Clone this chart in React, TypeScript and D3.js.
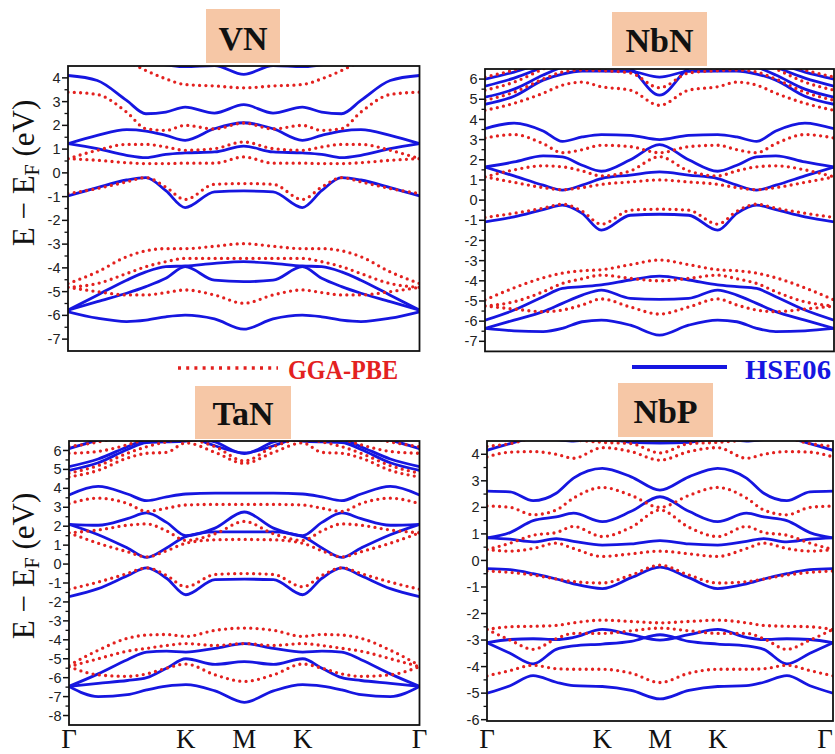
import React from "react";
import * as d3 from "d3";

// k-path
const K_LABELS = ["Γ", "K", "M", "K", "Γ"];
const K_POS = [0, 2, 3, 4, 6];
const X_STD = [0, 0.5, 1, 1.33, 1.67, 2, 2.5, 3, 3.5, 4, 4.33, 4.67, 5, 5.5, 6];
const X_NBP = [0, 0.4, 0.8, 1.2, 1.5, 2, 2.5, 3, 3.5, 4, 4.5, 4.8, 5.2, 5.6, 6];

// tick labels
const VN_TICKS = [-7, -6, -5, -4, -3, -2, -1, 0, 1, 2, 3, 4];
const NBN_TICKS = [-7, -6, -5, -4, -3, -2, -1, 0, 1, 2, 3, 4, 5, 6];
const TAN_TICKS = [-8, -7, -6, -5, -4, -3, -2, -1, 0, 1, 2, 3, 4, 5, 6];
const NBP_TICKS = [-6, -5, -4, -3, -2, -1, 0, 1, 2, 3, 4];

// ---------- VN ----------
const VN_HSE = [
  [-5.85, -6.12, -6.26, -6.2, -6.06, -5.99, -6.15, -6.58, -6.15, -5.99, -6.06, -6.2, -6.26, -6.12, -5.85],
  [-5.78, -5.42, -5.07, -4.79, -4.44, -3.95, -4.52, -4.58, -4.52, -3.95, -4.44, -4.79, -5.07, -5.42, -5.78],
  [-5.78, -5.15, -4.52, -4.17, -3.95, -3.92, -3.81, -3.74, -3.81, -3.92, -3.95, -4.17, -4.52, -5.15, -5.78],
  [-0.97, -0.62, -0.3, -0.2, -0.75, -1.46, -0.8, -0.76, -0.8, -1.46, -0.75, -0.2, -0.3, -0.62, -0.97],
  [1.23, 1.02, 0.74, 0.64, 0.78, 0.84, 0.88, 1.13, 0.88, 0.84, 0.78, 0.64, 0.74, 1.02, 1.23],
  [1.23, 1.58, 1.82, 1.76, 1.58, 1.37, 1.86, 2.11, 1.86, 1.37, 1.58, 1.76, 1.82, 1.58, 1.23],
  [4.1, 3.89, 3.05, 2.49, 2.56, 2.77, 2.52, 2.87, 2.52, 2.77, 2.56, 2.49, 3.05, 3.89, 4.1],
  [5.2, 5.0, 4.8, 4.65, 4.55, 4.47, 4.52, 4.15, 4.52, 4.47, 4.55, 4.65, 4.8, 5.0, 5.2],
];
const VN_GGA = [
  [5.4, 5.1, 4.7, 4.31, 3.96, 3.72, 3.66, 3.58, 3.66, 3.72, 3.96, 4.31, 4.7, 5.1, 5.4],
  [3.4, 3.3, 2.56, 1.86, 1.79, 2.0, 1.85, 2.1, 1.85, 2.0, 1.79, 1.86, 2.56, 3.3, 3.4],
  [0.6, 0.95, 1.2, 1.2, 1.09, 0.95, 1.02, 1.3, 1.02, 0.95, 1.09, 1.2, 1.2, 0.95, 0.6],
  [0.6, 0.53, 0.43, 0.39, 0.39, 0.41, 0.41, 0.67, 0.41, 0.41, 0.39, 0.39, 0.43, 0.53, 0.6],
  [-0.87, -0.66, -0.38, -0.2, -0.6, -1.12, -0.48, -0.45, -0.48, -1.12, -0.6, -0.2, -0.38, -0.66, -0.87],
  [-4.66, -4.17, -3.53, -3.28, -3.19, -3.19, -3.09, -2.98, -3.09, -3.19, -3.19, -3.28, -3.53, -4.17, -4.66],
  [-4.82, -4.66, -4.24, -3.95, -3.74, -3.6, -3.6, -3.6, -3.6, -3.6, -3.74, -3.95, -4.24, -4.66, -4.82],
  [-4.82, -5.0, -5.14, -5.14, -5.04, -4.93, -5.14, -5.49, -5.14, -4.93, -5.04, -5.14, -5.14, -5.0, -4.82],
];

// ---------- NbN ----------
const NBN_HSE = [
  [-6.36, -6.48, -6.52, -6.36, -6.03, -5.95, -6.2, -6.69, -6.2, -5.95, -6.03, -6.36, -6.52, -6.48, -6.36],
  [-5.95, -5.45, -4.79, -4.38, -4.29, -4.2, -3.96, -3.77, -3.96, -4.2, -4.29, -4.38, -4.79, -5.45, -5.95],
  [-6.36, -5.95, -5.53, -5.12, -4.71, -4.46, -4.87, -4.92, -4.87, -4.46, -4.71, -5.12, -5.53, -5.95, -6.36],
  [-1.08, -0.83, -0.47, -0.25, -0.66, -1.49, -0.75, -0.7, -0.75, -1.49, -0.66, -0.25, -0.47, -0.83, -1.08],
  [1.64, 1.2, 0.74, 0.5, 0.74, 1.07, 1.24, 1.4, 1.24, 1.07, 0.74, 0.5, 0.74, 1.2, 1.64],
  [1.64, 1.89, 2.19, 2.14, 1.73, 1.43, 2.0, 2.75, 2.0, 1.43, 1.73, 2.14, 2.19, 1.89, 1.64],
  [3.54, 3.82, 3.43, 2.91, 3.13, 3.25, 3.21, 3.0, 3.21, 3.25, 3.13, 2.91, 3.43, 3.82, 3.54],
  [4.75, 5.15, 5.95, 6.25, 6.4, 6.4, 6.38, 6.1, 6.38, 6.4, 6.4, 6.25, 5.95, 5.15, 4.75],
  [5.1, 5.5, 6.2, 6.6, 6.9, 7.0, 6.55, 5.2, 6.55, 7.0, 6.9, 6.6, 6.2, 5.5, 5.1],
  [5.65, 6.05, 6.6, 7.0, 7.2, 7.3, 7.3, 7.3, 7.3, 7.3, 7.2, 7.0, 6.6, 6.05, 5.65],
  [6.0, 6.35, 6.8, 7.1, 7.3, 7.4, 7.4, 7.4, 7.4, 7.4, 7.3, 7.1, 6.8, 6.35, 6.0],
];
const NBN_GGA = [
  [-5.25, -5.4, -5.53, -5.45, -5.2, -4.9, -5.3, -5.65, -5.3, -4.9, -5.2, -5.45, -5.53, -5.4, -5.25],
  [-5.25, -5.04, -4.54, -4.13, -3.9, -3.72, -3.88, -4.0, -3.88, -3.72, -3.9, -4.13, -4.54, -5.04, -5.25],
  [-4.95, -4.35, -3.85, -3.62, -3.5, -3.45, -3.2, -2.97, -3.2, -3.45, -3.5, -3.62, -3.85, -4.35, -4.95],
  [-0.86, -0.65, -0.4, -0.2, -0.55, -1.19, -0.5, -0.45, -0.5, -1.19, -0.55, -0.2, -0.4, -0.65, -0.86],
  [1.15, 0.88, 0.62, 0.52, 0.62, 0.78, 0.9, 1.0, 0.9, 0.78, 0.62, 0.52, 0.62, 0.88, 1.15],
  [1.15, 1.5, 1.7, 1.65, 1.45, 1.2, 1.45, 2.15, 1.45, 1.2, 1.45, 1.65, 1.7, 1.5, 1.15],
  [3.08, 3.25, 2.8, 2.35, 2.5, 2.72, 2.65, 2.35, 2.65, 2.72, 2.5, 2.35, 2.8, 3.25, 3.08],
  [4.45, 4.8, 5.3, 5.7, 5.85, 5.62, 5.45, 4.7, 5.45, 5.62, 5.85, 5.7, 5.3, 4.8, 4.45],
  [4.95, 5.35, 6.0, 6.35, 6.45, 6.42, 6.3, 5.57, 6.3, 6.42, 6.45, 6.35, 6.0, 5.35, 4.95],
  [5.45, 5.85, 6.5, 6.9, 7.1, 7.2, 7.2, 7.2, 7.2, 7.2, 7.1, 6.9, 6.5, 5.85, 5.45],
  [6.1, 6.45, 6.9, 7.2, 7.3, 7.3, 7.3, 7.3, 7.3, 7.3, 7.3, 7.2, 6.9, 6.45, 6.1],
];

// ---------- TaN ----------
const TAN_HSE = [
  [-6.46, -7.0, -6.9, -6.65, -6.45, -6.37, -6.7, -7.3, -6.7, -6.37, -6.45, -6.65, -6.9, -7.0, -6.46],
  [-6.46, -6.3, -6.15, -6.0, -5.5, -5.0, -5.3, -5.15, -5.3, -5.0, -5.5, -6.0, -6.15, -6.3, -6.46],
  [-6.46, -5.8, -5.05, -4.65, -4.6, -4.65, -4.45, -4.2, -4.45, -4.65, -4.6, -4.65, -5.05, -5.8, -6.46],
  [-1.72, -1.3, -0.62, -0.2, -0.75, -1.62, -0.82, -0.8, -0.82, -1.62, -0.75, -0.2, -0.62, -1.3, -1.72],
  [2.1, 1.55, 0.85, 0.35, 0.85, 1.45, 1.7, 1.7, 1.7, 1.45, 0.85, 0.35, 0.85, 1.55, 2.1],
  [2.1, 2.05, 2.4, 2.7, 2.2, 1.5, 1.9, 2.75, 1.9, 1.5, 2.2, 2.7, 2.4, 2.05, 2.1],
  [3.65, 4.1, 3.7, 3.35, 3.55, 3.7, 3.75, 3.75, 3.75, 3.7, 3.55, 3.35, 3.7, 4.1, 3.65],
  [4.95, 5.35, 6.05, 6.42, 6.45, 6.5, 6.7, 6.9, 6.7, 6.5, 6.45, 6.42, 6.05, 5.35, 4.95],
  [5.15, 5.55, 6.2, 6.6, 6.8, 6.9, 7.0, 7.1, 7.0, 6.9, 6.8, 6.6, 6.2, 5.55, 5.15],
  [6.1, 6.55, 6.9, 7.0, 7.0, 6.8, 6.25, 5.87, 6.25, 6.8, 7.0, 7.0, 6.9, 6.55, 6.1],
  [7.5, 7.5, 7.3, 7.2, 7.0, 6.75, 6.45, 5.83, 6.45, 6.75, 7.0, 7.2, 7.3, 7.5, 7.5],
];
const TAN_GGA = [
  [-5.42, -5.85, -5.93, -5.8, -5.5, -5.28, -5.85, -6.2, -5.85, -5.28, -5.5, -5.8, -5.93, -5.85, -5.42],
  [-5.42, -5.0, -4.6, -4.45, -4.3, -4.2, -4.3, -4.2, -4.3, -4.2, -4.3, -4.45, -4.6, -5.0, -5.42],
  [-5.35, -4.55, -3.92, -3.75, -3.72, -3.82, -3.5, -3.38, -3.5, -3.82, -3.72, -3.75, -3.92, -4.55, -5.35],
  [-1.33, -0.95, -0.5, -0.2, -0.6, -1.2, -0.55, -0.5, -0.55, -1.2, -0.6, -0.2, -0.5, -0.95, -1.33],
  [1.65, 1.1, 0.65, 0.38, 0.7, 1.1, 1.28, 1.3, 1.28, 1.1, 0.7, 0.38, 0.65, 1.1, 1.65],
  [1.65, 1.8, 2.05, 2.12, 1.75, 1.25, 1.6, 2.25, 1.6, 1.25, 1.75, 2.12, 2.05, 1.8, 1.65],
  [3.19, 3.48, 3.2, 2.78, 2.95, 3.12, 3.15, 3.15, 3.15, 3.12, 2.95, 2.78, 3.2, 3.48, 3.19],
  [4.6, 4.95, 5.6, 5.85, 5.9, 6.4, 5.9, 5.32, 5.9, 6.4, 5.9, 5.85, 5.6, 4.95, 4.6],
  [4.8, 5.2, 5.85, 6.2, 6.45, 6.6, 6.2, 5.45, 6.2, 6.6, 6.45, 6.2, 5.85, 5.2, 4.8],
  [5.85, 5.95, 6.3, 6.6, 6.8, 6.9, 7.0, 7.0, 7.0, 6.9, 6.8, 6.6, 6.3, 5.95, 5.85],
  [6.2, 6.45, 6.8, 7.0, 7.1, 7.2, 7.2, 7.2, 7.2, 7.2, 7.1, 7.0, 6.8, 6.45, 6.2],
];

// ---------- NbP ----------
const NBP_HSE = [
  [-5.0, -4.72, -4.34, -4.59, -4.72, -4.75, -4.9, -5.22, -4.9, -4.75, -4.72, -4.59, -4.34, -4.72, -5.0],
  [-3.1, -3.5, -3.9, -3.35, -3.22, -3.15, -3.05, -2.8, -3.05, -3.15, -3.22, -3.35, -3.9, -3.5, -3.1],
  [-3.1, -2.98, -2.95, -2.98, -2.9, -2.6, -2.8, -3.0, -2.8, -2.6, -2.9, -2.98, -2.95, -2.98, -3.1],
  [-0.31, -0.35, -0.5, -0.7, -0.88, -1.06, -0.65, -0.25, -0.65, -1.06, -0.88, -0.7, -0.5, -0.35, -0.31],
  [0.85, 0.8, 0.7, 0.82, 0.72, 0.58, 0.62, 0.75, 0.62, 0.58, 0.72, 0.82, 0.7, 0.8, 0.85],
  [0.85, 1.05, 1.5, 1.64, 1.78, 1.46, 1.85, 2.4, 1.85, 1.46, 1.78, 1.64, 1.5, 1.05, 0.85],
  [2.61, 2.58, 2.25, 2.53, 3.1, 3.47, 3.15, 2.65, 3.15, 3.47, 3.1, 2.53, 2.25, 2.58, 2.61],
  [4.15, 4.4, 4.6, 4.55, 4.5, 4.6, 4.45, 4.42, 4.45, 4.6, 4.5, 4.55, 4.6, 4.4, 4.15],
];
const NBP_GGA = [
  [-4.35, -4.15, -3.95, -4.08, -4.1, -4.1, -4.25, -4.6, -4.25, -4.1, -4.1, -4.08, -3.95, -4.15, -4.35],
  [-2.6, -3.0, -3.35, -2.95, -2.75, -2.75, -2.65, -2.55, -2.65, -2.75, -2.75, -2.95, -3.35, -3.0, -2.6],
  [-2.6, -2.5, -2.48, -2.45, -2.35, -2.25, -2.3, -2.35, -2.3, -2.25, -2.35, -2.45, -2.48, -2.5, -2.6],
  [-0.4, -0.45, -0.55, -0.7, -0.8, -0.85, -0.55, -0.18, -0.55, -0.85, -0.8, -0.7, -0.55, -0.45, -0.4],
  [0.41, 0.35, 0.45, 0.65, 0.45, 0.15, 0.25, 0.35, 0.25, 0.15, 0.45, 0.65, 0.45, 0.35, 0.41],
  [0.41, 0.65, 0.95, 1.05, 1.28, 0.9, 1.25, 1.9, 1.25, 0.9, 1.28, 1.05, 0.95, 0.65, 0.41],
  [2.05, 2.0, 1.72, 1.9, 2.35, 2.75, 2.45, 2.0, 2.45, 2.75, 2.35, 1.9, 1.72, 2.0, 2.05],
  [3.9, 4.08, 4.1, 4.0, 3.85, 4.25, 4.1, 3.78, 4.1, 4.25, 3.85, 4.0, 4.1, 4.08, 3.9],
  [4.3, 4.4, 4.6, 4.65, 4.55, 4.45, 4.4, 4.05, 4.4, 4.45, 4.55, 4.65, 4.6, 4.4, 4.3],
];

// ---------- layout (positions / styles) ----------
const PANELS = [
  { id: "vn", title: "VN", xs: X_STD, hse: VN_HSE, gga: VN_GGA, ticks: VN_TICKS, dom: [-7.5, 4.5],
    frame: { l: 68, r: 419.5, t: 66, b: 351 }, box: { x: 206, y: 9, w: 74, h: 54, base: 50 },
    yLabel: 173, xLabels: false },
  { id: "nbn", title: "NbN", xs: X_STD, hse: NBN_HSE, gga: NBN_GGA, ticks: NBN_TICKS, dom: [-7.5, 6.5],
    frame: { l: 485, r: 834, t: 69, b: 351.4 }, box: { x: 612, y: 12, w: 95, h: 54, base: 52 },
    yLabel: null, xLabels: false },
  { id: "tan", title: "TaN", xs: X_STD, hse: TAN_HSE, gga: TAN_GGA, ticks: TAN_TICKS, dom: [-8.5, 6.5],
    frame: { l: 69, r: 419.5, t: 441, b: 725 }, box: { x: 195, y: 386, w: 96, h: 53, base: 425 },
    yLabel: 566, xLabels: true },
  { id: "nbp", title: "NbP", xs: X_NBP, hse: NBP_HSE, gga: NBP_GGA, ticks: NBP_TICKS, dom: [-6.05, 4.5],
    frame: { l: 487, r: 833, t: 441, b: 721 }, box: { x: 618, y: 383, w: 95, h: 54, base: 423 },
    yLabel: null, xLabels: true },
];

const BLUE = "#1616e0";
const RED = "#e3211f";
const PEACH = "#f6c7a6";
const SERIF = "Liberation Serif, Times New Roman, DejaVu Serif, serif";
const SANS = "Liberation Sans, Arial, sans-serif";

function Panel({ p }: { p: any }) {
  const { l, r, t, b } = p.frame;
  const x = d3.scaleLinear().domain([0, 6]).range([l, r]);
  const y = d3.scaleLinear().domain(p.dom).range([b, t]);
  const line = d3
    .line<number>()
    .x((_, i) => x(p.xs[i]))
    .y((d) => y(d))
    .curve(d3.curveMonotoneX);
  const minor: number[] = [];
  p.ticks.forEach((tk: number) => {
    if (tk + 0.5 < p.dom[1]) minor.push(tk + 0.5);
  });
  if (p.ticks[0] - 0.5 > p.dom[0]) minor.push(p.ticks[0] - 0.5);
  const clipId = "clip-" + p.id;
  return (
    <g>
      <defs>
        <clipPath id={clipId}>
          <rect x={l} y={t} width={r - l} height={b - t} />
        </clipPath>
      </defs>
      <rect x={p.box.x} y={p.box.y} width={p.box.w} height={p.box.h} fill={PEACH} />
      <text x={p.box.x + p.box.w / 2} y={p.box.base} textAnchor="middle"
        style={{ fontFamily: SERIF, fontWeight: "bold", fontSize: "34px" }} fill="#111">{p.title}</text>
      <g clipPath={`url(#${clipId})`}>
        {p.hse.map((band: number[], i: number) => (
          <path key={"h" + i} d={line(band) || ""} fill="none" stroke={BLUE} strokeWidth={2.8} />
        ))}
        {p.gga.map((band: number[], i: number) => (
          <path key={"g" + i} d={line(band) || ""} fill="none" stroke={RED} strokeWidth={3.3}
            strokeDasharray="0 6.3" strokeLinecap="round" />
        ))}
      </g>
      <rect x={l} y={t} width={r - l} height={b - t} fill="none" stroke="#111" strokeWidth={1.8} />
      {p.ticks.map((tk: number) => (
        <g key={"t" + tk}>
          <line x1={l - 6} x2={l} y1={y(tk)} y2={y(tk)} stroke="#111" strokeWidth={1.5} />
          <text x={l - 7.5} y={y(tk)} dy="0.35em" textAnchor="end"
            style={{ fontFamily: SANS, fontSize: "14.5px" }} fill="#222">{tk}</text>
        </g>
      ))}
      {minor.map((tk) => (
        <line key={"m" + tk} x1={l - 3.5} x2={l} y1={y(tk)} y2={y(tk)} stroke="#111" strokeWidth={1.3} />
      ))}
      {p.yLabel !== null && (
        <text transform={`translate(34,${p.yLabel}) rotate(-90)`} textAnchor="middle"
          style={{ fontFamily: SERIF, fontSize: "31px" }} fill="#111">
          E − E<tspan style={{ fontSize: "20px" }} dy={5}>F</tspan><tspan dy={-5}> (eV)</tspan>
        </text>
      )}
      {p.xLabels &&
        K_POS.map((k, i) => (
          <text key={"k" + i} x={Math.min(x(k), 825)} y={748} textAnchor="middle"
            style={{ fontFamily: SERIF, fontSize: "27px" }} fill="#111">{K_LABELS[i]}</text>
        ))}
    </g>
  );
}

export default function App() {
  return (
    <svg width={835} height={754} style={{ position: "absolute", left: 0, top: 0, background: "#fff" }}>
      <rect x={0} y={0} width={835} height={754} fill="#fff" />
      {PANELS.map((p) => (
        <Panel key={p.id} p={p} />
      ))}
      {/* legend */}
      <line x1={178} x2={278} y1={368} y2={368} stroke={RED} strokeWidth={3.5} strokeDasharray="3 5.2" />
      <text x={288} y={379} textLength={110} lengthAdjust="spacingAndGlyphs"
        style={{ fontFamily: SERIF, fontWeight: "bold", fontSize: "28px" }} fill={RED}>GGA-PBE</text>
      <line x1={632} x2={727} y1={367} y2={367} stroke={BLUE} strokeWidth={4} />
      <text x={745} y={379} textLength={86} lengthAdjust="spacingAndGlyphs"
        style={{ fontFamily: SERIF, fontWeight: "bold", fontSize: "28px" }} fill={BLUE}>HSE06</text>
    </svg>
  );
}
